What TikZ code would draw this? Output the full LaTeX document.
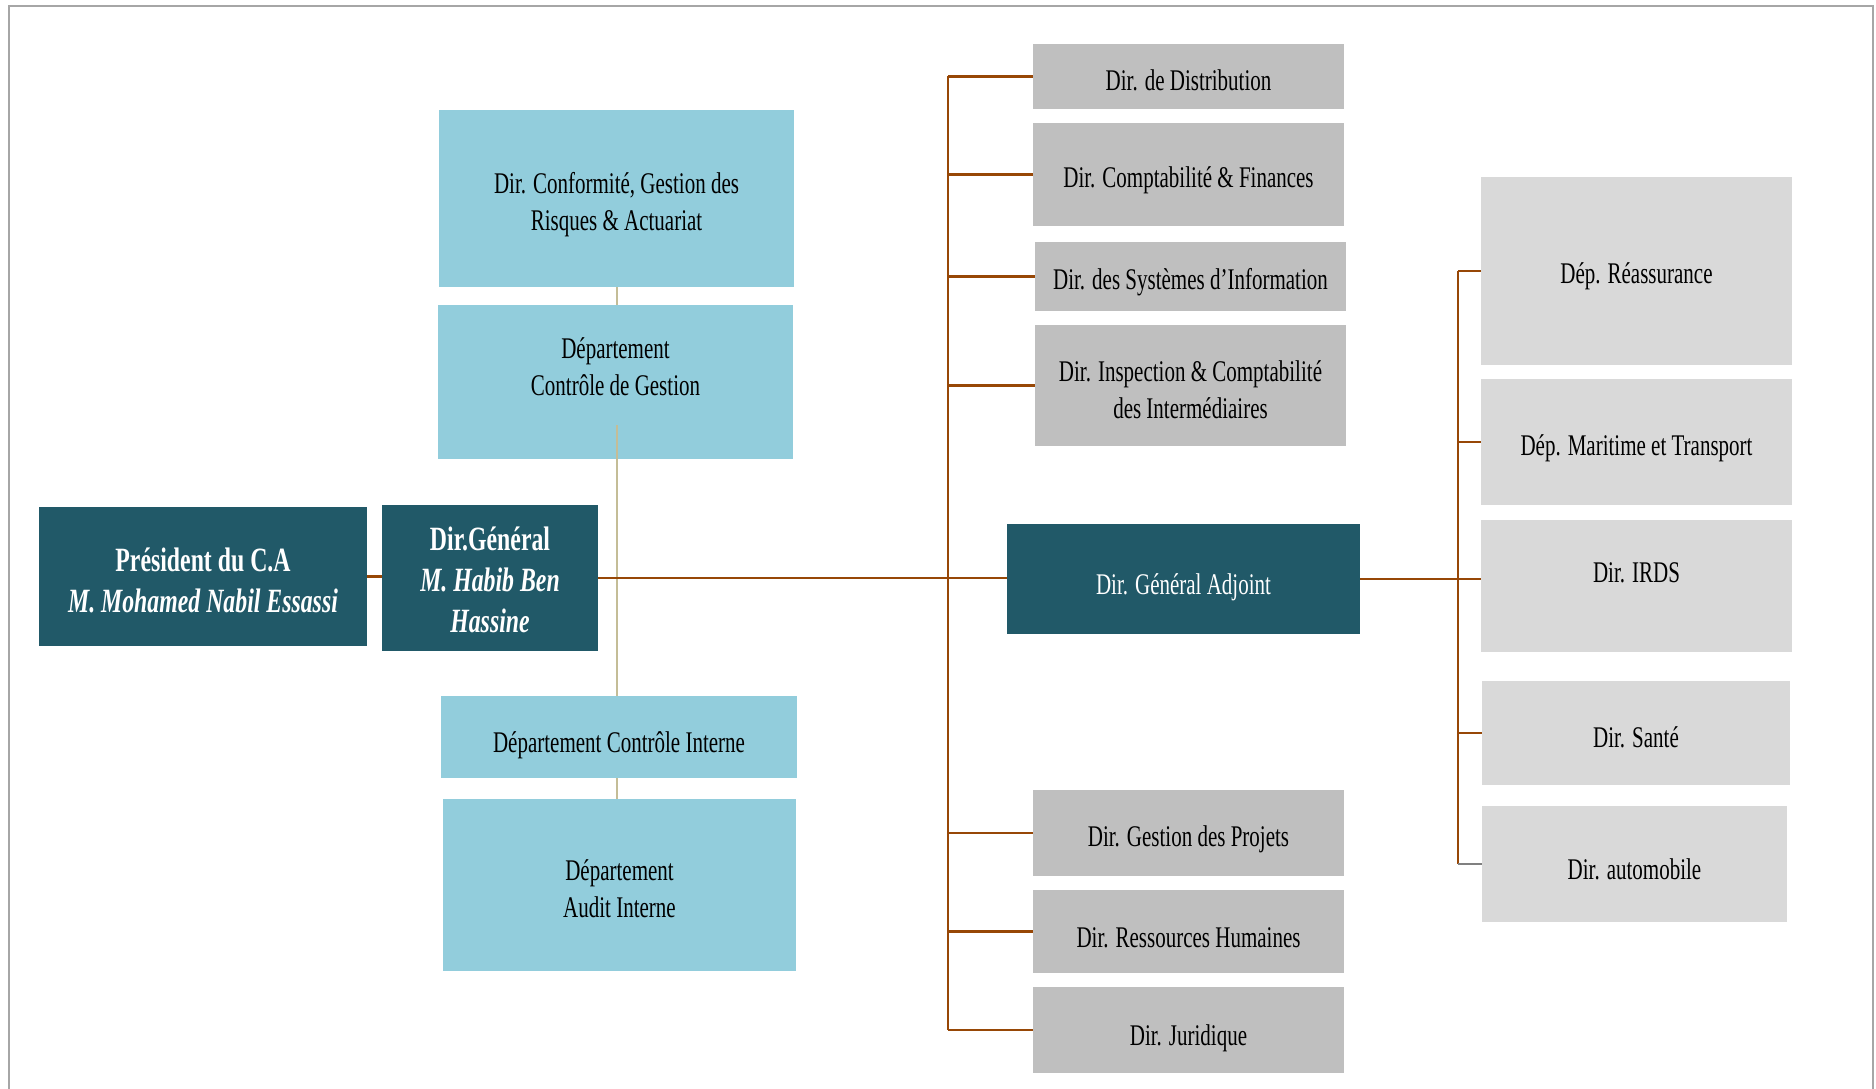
\documentclass[tikz,border=0pt]{standalone}
\usepackage{fontspec}
\setmainfont{Liberation Serif}[FakeStretch=0.7]
\definecolor{darkteal}{RGB}{33,89,104}
\definecolor{lblue}{RGB}{146,205,220}
\definecolor{grayA}{RGB}{191,191,191}
\definecolor{grayB}{RGB}{217,217,217}
\definecolor{brownline}{RGB}{151,71,6}
\definecolor{tanline}{RGB}{196,189,151}
\definecolor{frame}{RGB}{166,166,166}
\tikzset{
  basebox/.style={rectangle, inner sep=0pt},
  darkbox/.style={basebox, fill=darkteal},
  bluebox/.style={basebox, fill=lblue},
  grayboxA/.style={basebox, fill=grayA},
  grayboxB/.style={basebox, fill=grayB},
  lbl/.style={align=center, inner sep=0pt, text=black, font=\fontsize{30}{37}\selectfont, yshift=-6pt},
  lblw/.style={lbl, text=white},
  lblbig/.style={lblw, font=\fontsize{34}{41}\selectfont\bfseries},
  brownconn/.style={draw=brownline, line width=2.5pt},
  tanconn/.style={draw=tanline, line width=1.5pt},
  grayconn/.style={draw=gray, line width=2.5pt},
}
\begin{document}
\begin{tikzpicture}[x=1pt,y=-1pt]
\useasboundingbox (0,0) rectangle (1876,1089);
\draw[frame, line width=2pt] (9,1089) -- (9,6) -- (1873,6) -- (1873,1089);

% tan vertical (behind)
\coordinate (tanx) at (617,0);
\draw[tanconn] (tanx |- 0,287) -- (tanx |- 0,799);

% left nodes
\node[darkbox, minimum width=328, minimum height=139,
  label={[lblbig, yshift=2pt]center:{Président du C.A\\\itshape M. Mohamed Nabil Essassi}}] (pres) at (203,576.5) {};
\node[darkbox, minimum width=216, minimum height=146,
  label={[lblbig, yshift=4pt]center:{Dir.Général\\\itshape M. Habib Ben\\\itshape Hassine}}] (dg) at (490,578) {};

\node[bluebox, minimum width=355, minimum height=177,
  label={[lbl]center:{Dir. Conformité, Gestion des\\Risques \& Actuariat}}] (conf) at (616.5,198.5) {};
\node[bluebox, minimum width=355, minimum height=154,
  label={[lbl, yshift=21pt]center:{Département\\Contrôle de Gestion}}] (gest) at (615.5,382) {};
\node[bluebox, minimum width=356, minimum height=82,
  label={[lbl, yshift=-2pt]center:{Département Contrôle Interne}}] (cint) at (619,737) {};
\node[bluebox, minimum width=353, minimum height=172,
  label={[lbl, yshift=2pt]center:{Département\\Audit Interne}}] (audit) at (619.5,885) {};

% middle column
\node[grayboxA, minimum width=311, minimum height=65,
  label={[lbl, yshift=2pt]center:{Dir. de Distribution}}] (dist) at (1188.5,76.5) {};
\node[grayboxA, minimum width=311, minimum height=103,
  label={[lbl]center:{Dir. Comptabilité \& Finances}}] (compta) at (1188.5,174.5) {};
\node[grayboxA, minimum width=311, minimum height=69,
  label={[lbl]center:{Dir. des Systèmes d’Information}}] (si) at (1190.5,276.5) {};
\node[grayboxA, minimum width=311, minimum height=121,
  label={[lbl, yshift=2pt]center:{Dir. Inspection \& Comptabilité\\des Intermédiaires}}] (insp) at (1190.5,385.5) {};
\node[darkbox, minimum width=353, minimum height=110,
  label={[lblw, yshift=-2pt]center:{Dir. Général Adjoint}}] (dga) at (1183.5,579) {};
\node[grayboxA, minimum width=311, minimum height=86,
  label={[lbl]center:{Dir. Gestion des Projets}}] (proj) at (1188.5,833) {};
\node[grayboxA, minimum width=311, minimum height=83,
  label={[lbl]center:{Dir. Ressources Humaines}}] (rh) at (1188.5,931.5) {};
\node[grayboxA, minimum width=311, minimum height=86,
  label={[lbl, yshift=-2pt]center:{Dir. Juridique}}] (jur) at (1188.5,1030) {};

% right column
\node[grayboxB, minimum width=311, minimum height=188,
  label={[lbl, yshift=1pt]center:{Dép. Réassurance}}] (reass) at (1636.5,271) {};
\node[grayboxB, minimum width=311, minimum height=126,
  label={[lbl]center:{Dép. Maritime et Transport}}] (marit) at (1636.5,442) {};
\node[grayboxB, minimum width=311, minimum height=132,
  label={[lbl, yshift=19pt]center:{Dir. IRDS}}] (irds) at (1636.5,586) {};
\node[grayboxB, minimum width=308, minimum height=104,
  label={[lbl, yshift=2pt]center:{Dir. Santé}}] (sante) at (1636,733) {};
\node[grayboxB, minimum width=305, minimum height=116,
  label={[lbl, yshift=1pt]center:{Dir. automobile}}] (auto) at (1634.5,864) {};

% tan segments visible
\draw[tanconn] (tanx |- 0,425) -- (tanx |- gest.south);
\draw[tanconn] (tanx |- gest.south) -- (tanx |- cint.north);
\draw[tanconn] (tanx |- cint.south) -- (tanx |- audit.north);

% brown connectors left
\draw[brownconn] (pres.east) -- (pres.east -| dg.west);
\draw[brownconn] (dg.east) -- (dg.east -| dga.west);

% middle trunk
\coordinate (tk) at (948,0);
\draw[brownconn] (dist.west -| tk) -- (jur.west -| tk);
\foreach \n in {dist,compta,si,insp,proj,rh,jur}
  \draw[brownconn] (\n.west -| tk) -- (\n.west);

% right trunk
\coordinate (tk2) at (1458,0);
\draw[brownconn] (reass.west -| tk2) -- (auto.west -| tk2);
\draw[brownconn] (dga.east) -- (dga.east -| irds.west);
\foreach \n in {reass,marit,sante}
  \draw[brownconn] (\n.west -| tk2) -- (\n.west);
\draw[grayconn] (auto.west -| tk2) -- (auto.west);
\end{tikzpicture}
\end{document}
